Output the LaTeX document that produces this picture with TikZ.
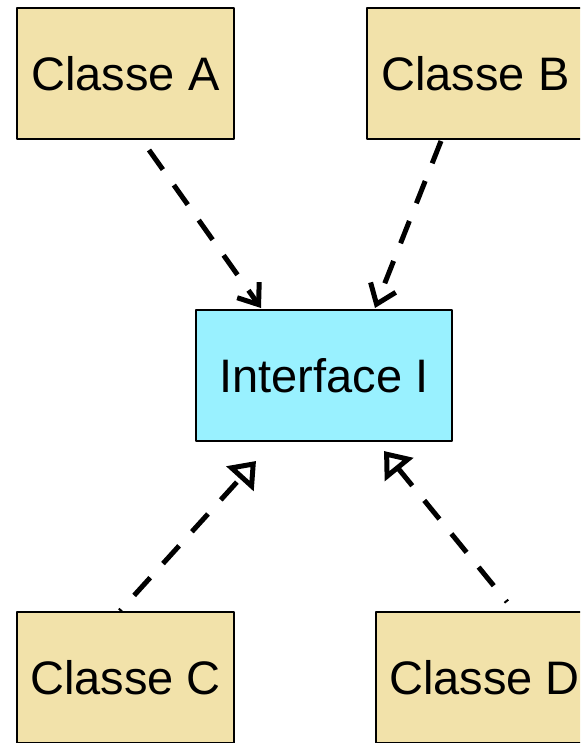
\documentclass[tikz,border=0pt]{standalone}
\usepackage{fontspec}
\setmainfont{Liberation Sans}
\usetikzlibrary{arrows.meta}
\definecolor{beige}{RGB}{242,226,170}
\definecolor{cyanbox}{RGB}{153,241,255}
\begin{document}
\begin{tikzpicture}[x=1pt,y=-1pt,line join=round,
		box/.style={draw,line width=1.5pt,minimum width=217pt,minimum height=131pt,inner sep=0pt,font=\fontsize{47}{56}\selectfont},
		cls/.style={box,fill=beige},
		dep/.style={line width=5pt,dash pattern=on 24pt off 19pt,-{Straight Barb[length=18pt,width=27pt]}},
		real/.style={line width=5pt,dash pattern=on 24pt off 19pt,dash phase=22pt,-{Triangle[open,length=24pt,width=36pt]}}]
		\clip(0,0)rectangle(580,743);
		\node[cls](A)at(125.5,73.5){Classe A};
		\node[cls](B)at(475.5,73.5){Classe B};
		\node[cls](C)at(125.5,677.5){Classe C};
		\node[cls](D)at(484.5,677.5){Classe D};
		\node[box,fill=cyanbox,minimum width=256pt](I)at(324,375.5){Interface I};
		%dependances vers I
		\coordinate(A1)at(149,150);
		\coordinate(B1)at(441,141);
		\coordinate(IA)at(261,308);
		\coordinate(IB)at(375,308);
		%realisations de I
		\coordinate(C1)at(120,611);
		\coordinate(D1)at(507,602);
		\coordinate(IC)at(256,461);
		\coordinate(ID)at(384,451);
		\foreach\p/\q in{A1/IA,B1/IB}{\draw[dep](\p)--(\q);}
		\foreach\p/\q in{C1/IC,D1/ID}{\draw[real](\p)--(\q);}
	\end{tikzpicture}
\end{document}
